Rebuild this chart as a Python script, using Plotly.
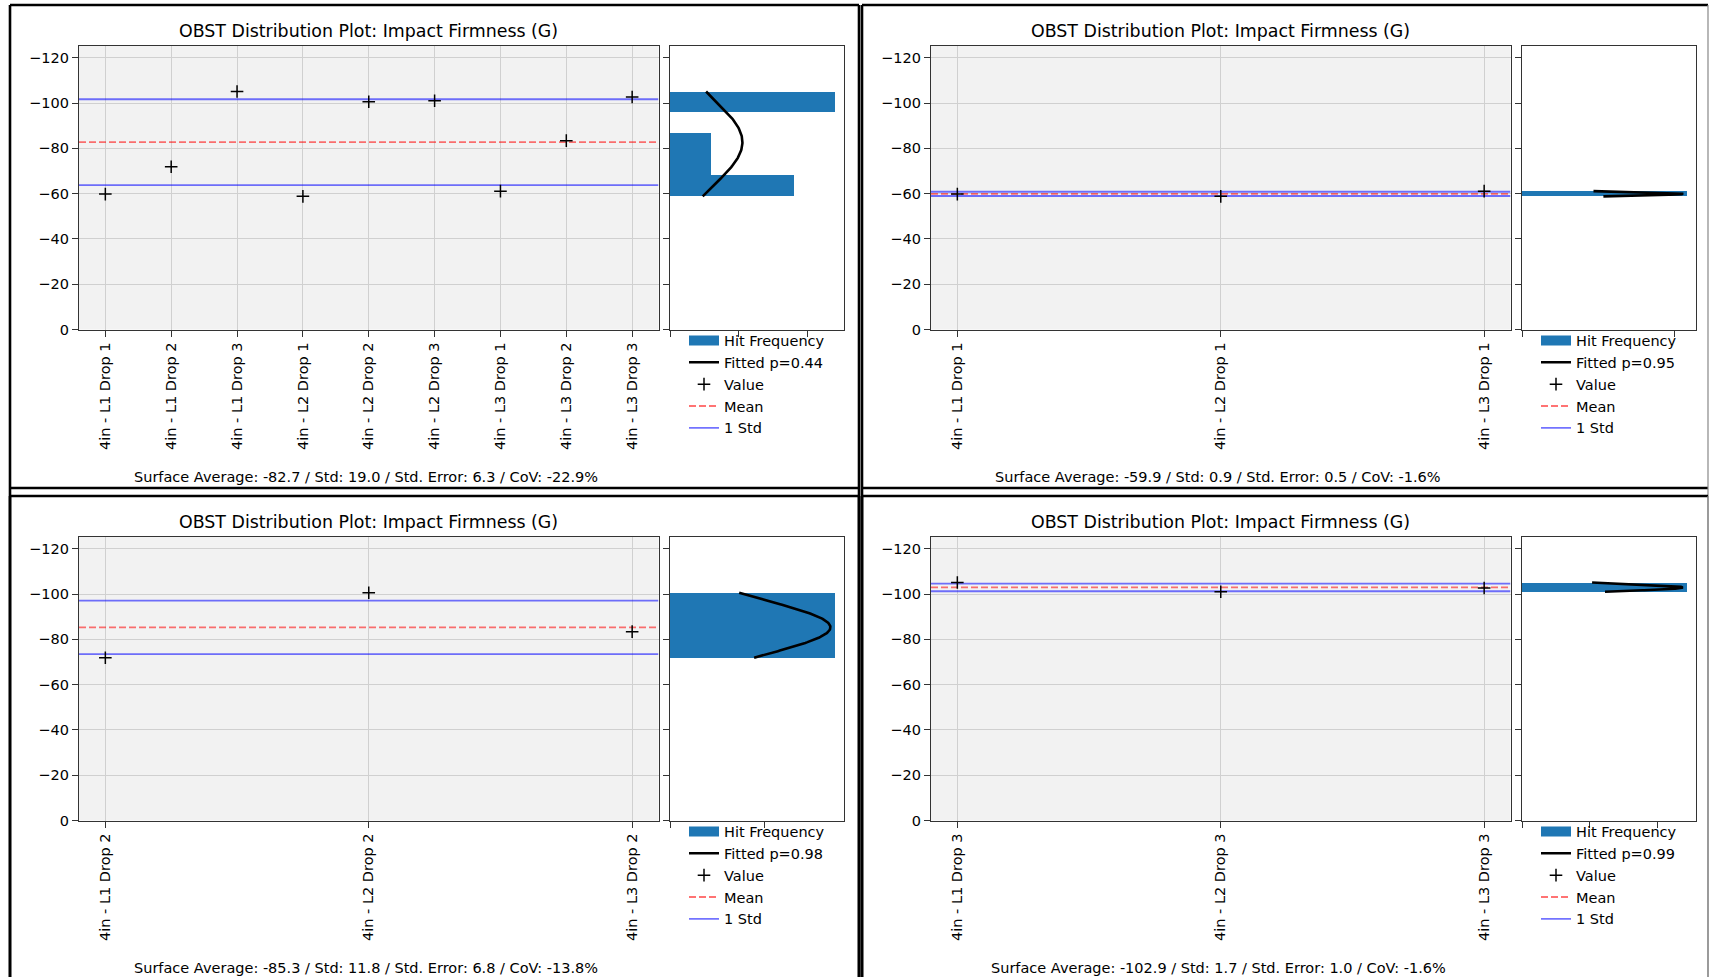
import numpy as np
import plotly.graph_objects as go

# ---------------- data ----------------
categories_all = ["4in - L1 Drop 1", "4in - L1 Drop 2", "4in - L1 Drop 3",
                  "4in - L2 Drop 1", "4in - L2 Drop 2", "4in - L2 Drop 3",
                  "4in - L3 Drop 1", "4in - L3 Drop 2", "4in - L3 Drop 3"]
values_all = [-59.8, -71.9, -105.1, -58.8, -100.6, -101.0, -61.1, -83.4, -102.7]

categories_drop1 = ["4in - L1 Drop 1", "4in - L2 Drop 1", "4in - L3 Drop 1"]
values_drop1 = [-59.8, -58.8, -61.1]

categories_drop2 = ["4in - L1 Drop 2", "4in - L2 Drop 2", "4in - L3 Drop 2"]
values_drop2 = [-71.9, -100.6, -83.4]

categories_drop3 = ["4in - L1 Drop 3", "4in - L2 Drop 3", "4in - L3 Drop 3"]
values_drop3 = [-105.1, -101.0, -102.7]

fit_p_values = [0.44, 0.95, 0.98, 0.99]
y_tick_values = [0, -20, -40, -60, -80, -100, -120]
title_text = "OBST Distribution Plot: Impact Firmness (G)"

# ---------------- styling / layout ----------------
W, H = 1712, 977
FONT = "DejaVu Sans"
FS = 14.5
BAR_BLUE = "#1f77b4"
MEAN_RED = "rgba(255,0,0,0.55)"
STD_BLUE = "rgba(0,0,255,0.55)"
SPINE = "#333333"
GRID = "#d0d0d0"
Y_RANGE = [0, -125.2]

panels = [
    dict(cats=categories_all, vals=values_all, p=fit_p_values[0], dx=0, dy=0, hdtick=0.02),
    dict(cats=categories_drop1, vals=values_drop1, p=fit_p_values[1], dx=852, dy=0, hdtick=0.4),
    dict(cats=categories_drop2, vals=values_drop2, p=fit_p_values[2], dx=0, dy=491, hdtick=0.02),
    dict(cats=categories_drop3, vals=values_drop3, p=fit_p_values[3], dx=852, dy=491, hdtick=0.1),
]


def fx(px):
    return px / W


def fy(py):
    return 1 - py / H


def frame_line(x0, y0, x1, y1, color="black", width=2.6):
    return dict(type="line", xref="paper", yref="paper",
                x0=fx(x0), y0=fy(y0), x1=fx(x1), y1=fy(y1),
                line=dict(color=color, width=width), layer="above")


fig = go.Figure()
layout = dict(
    width=W, height=H, autosize=False,
    margin=dict(l=0, r=0, t=0, b=0, pad=0, autoexpand=False),
    paper_bgcolor="white", plot_bgcolor="white",
    showlegend=True,
    font=dict(family=FONT, size=FS, color="black"),
)
shapes = []
annotations = []

for i, pnl in enumerate(panels):
    dx, dy = pnl["dx"], pnl["dy"]
    vals = np.array(pnl["vals"], dtype=float)
    n = len(vals)
    xs = np.arange(n)

    mean = float(np.mean(vals))
    std = float(np.std(vals))
    se = std / np.sqrt(n)
    cov = std / mean * 100

    km, kh = 2 * i + 1, 2 * i + 2
    xm = "x" if km == 1 else f"x{km}"
    ym = "y" if km == 1 else f"y{km}"
    xh, yh = f"x{kh}", f"y{kh}"
    leg = "legend" if i == 0 else f"legend{i + 1}"

    x_lo, x_hi = -0.05 * (n - 1), 1.05 * (n - 1)

    # histogram (density) and fitted normal curve
    dens, edges = np.histogram(vals, bins="auto", density=True)
    centers = (edges[:-1] + edges[1:]) / 2
    widths = np.diff(edges)
    yy = np.linspace(vals.min(), vals.max(), 120)
    pdf = np.exp(-0.5 * ((yy - mean) / std) ** 2) / (std * np.sqrt(2 * np.pi))
    h_max = 1.05 * max(dens.max(), pdf.max())

    # legend-only handle for the histogram
    fig.add_trace(go.Scatter(x=[None], y=[None], mode="lines", name="Hit Frequency",
                             line=dict(color=BAR_BLUE, width=10),
                             xaxis=xh, yaxis=yh, legend=leg, hoverinfo="skip"))
    fig.add_trace(go.Bar(y=centers, x=dens, width=widths, orientation="h",
                         marker=dict(color=BAR_BLUE, line=dict(width=0)),
                         showlegend=False, xaxis=xh, yaxis=yh, legend=leg))
    fig.add_trace(go.Scatter(x=pdf, y=yy, mode="lines", name=f"Fitted p={pnl['p']:.2f}",
                             line=dict(color="black", width=2.6),
                             xaxis=xh, yaxis=yh, legend=leg))

    # main strip: mean and one-std lines, then the values
    fig.add_trace(go.Scatter(x=[x_lo, x_hi], y=[mean - std] * 2, mode="lines",
                             line=dict(color=STD_BLUE, width=1.8), showlegend=False,
                             xaxis=xm, yaxis=ym, legend=leg))
    fig.add_trace(go.Scatter(x=[x_lo, x_hi], y=[mean + std] * 2, mode="lines",
                             line=dict(color=STD_BLUE, width=1.8), showlegend=False,
                             xaxis=xm, yaxis=ym, legend=leg))
    fig.add_trace(go.Scatter(x=[x_lo, x_hi], y=[mean, mean], mode="lines",
                             line=dict(color=MEAN_RED, width=1.8, dash="7px,3px"),
                             showlegend=False, xaxis=xm, yaxis=ym, legend=leg))
    fig.add_trace(go.Scatter(x=xs, y=vals, mode="markers", name="Value",
                             marker=dict(symbol="cross-thin", size=9,
                                         line=dict(color="black", width=1.5)),
                             xaxis=xm, yaxis=ym, legend=leg))
    # legend handles for the reference lines
    fig.add_trace(go.Scatter(x=[None], y=[None], mode="lines", name="Mean",
                             line=dict(color=MEAN_RED, width=1.8, dash="7px,3px"),
                             xaxis=xm, yaxis=ym, legend=leg))
    fig.add_trace(go.Scatter(x=[None], y=[None], mode="lines", name="1 Std",
                             line=dict(color=STD_BLUE, width=1.8),
                             xaxis=xm, yaxis=ym, legend=leg))

    ydom = [fy(329.5 + dy), fy(46 + dy)]
    tickfont = dict(family=FONT, size=FS, color="black")
    layout["xaxis" if km == 1 else f"xaxis{km}"] = dict(
        domain=[fx(79 + dx), fx(658.5 + dx)], anchor=ym, range=[x_lo, x_hi],
        tickmode="array", tickvals=list(xs), ticktext=pnl["cats"], tickangle=-90,
        ticks="outside", ticklen=6, tickcolor=SPINE, tickfont=tickfont,
        showgrid=True, gridcolor=GRID, gridwidth=1, zeroline=False,
        showline=True, linecolor=SPINE, linewidth=1.3, mirror=True)
    layout["yaxis" if km == 1 else f"yaxis{km}"] = dict(
        domain=ydom, anchor=xm, range=Y_RANGE,
        tickmode="array", tickvals=y_tick_values,
        ticks="outside", ticklen=6, tickcolor=SPINE, tickfont=tickfont,
        showgrid=True, gridcolor=GRID, gridwidth=1.4, zeroline=False,
        showline=True, linecolor=SPINE, linewidth=1.3, mirror=True)
    layout[f"xaxis{kh}"] = dict(
        domain=[fx(670 + dx), fx(843.5 + dx)], anchor=yh, range=[0, h_max],
        tickmode="linear", tick0=0, dtick=pnl["hdtick"], showticklabels=False,
        ticks="outside", ticklen=6, tickcolor=SPINE,
        showgrid=False, zeroline=False,
        showline=True, linecolor=SPINE, linewidth=1.3, mirror=True)
    layout[f"yaxis{kh}"] = dict(
        domain=ydom, anchor=xh, range=Y_RANGE,
        tickmode="array", tickvals=y_tick_values, showticklabels=False,
        ticks="outside", ticklen=6, tickcolor=SPINE,
        showgrid=False, zeroline=False,
        showline=True, linecolor=SPINE, linewidth=1.3, mirror=True)

    layout[leg] = dict(
        x=fx(684 + dx), y=fy(324.5 + dy), xanchor="left", yanchor="top",
        bgcolor="rgba(0,0,0,0)", borderwidth=0, itemwidth=30,
        font=dict(family=FONT, size=FS, color="black"),
        traceorder="normal")

    # light grey face for the strip plot
    shapes.append(dict(type="rect", xref=f"{xm} domain", yref=f"{ym} domain",
                       x0=0, x1=1, y0=0, y1=1, fillcolor="#f2f2f2",
                       line=dict(width=0), layer="below"))

    # panel frame (bottom row runs past the lower edge of the page)
    left, top = 10 + dx, 5 + dy
    right = 859 if dx == 0 else 1708
    shapes.append(frame_line(left, top, right, top))
    shapes.append(frame_line(left, top, left, H + 5))
    if dy == 0:
        shapes.append(frame_line(left, 488, right, 488))
    if dx == 0:
        shapes.append(frame_line(right, top, right, H + 5))
    else:
        shapes.append(frame_line(right, top, right, H + 5, color="#888888", width=1.2))

    annotations.append(dict(text=title_text, xref="paper", yref="paper",
                            x=fx(368.5 + dx), y=fy(30.5 + dy), xanchor="center",
                            yanchor="middle", showarrow=False,
                            font=dict(family=FONT, size=17.4, color="black")))
    summary = (f"Surface Average: {mean:.1f} / Std: {std:.1f} / "
               f"Std. Error: {se:.1f} / CoV: {cov:.1f}%")
    annotations.append(dict(text=summary, xref="paper", yref="paper",
                            x=fx(366 + dx), y=fy(477 + dy), xanchor="center",
                            yanchor="middle", showarrow=False,
                            font=dict(family=FONT, size=FS, color="black")))

layout["shapes"] = shapes
layout["annotations"] = annotations
fig.update_layout(**layout)
fig.update_layout(bargap=0)

fig.write_html("out.html", config={"displayModeBar": False})
